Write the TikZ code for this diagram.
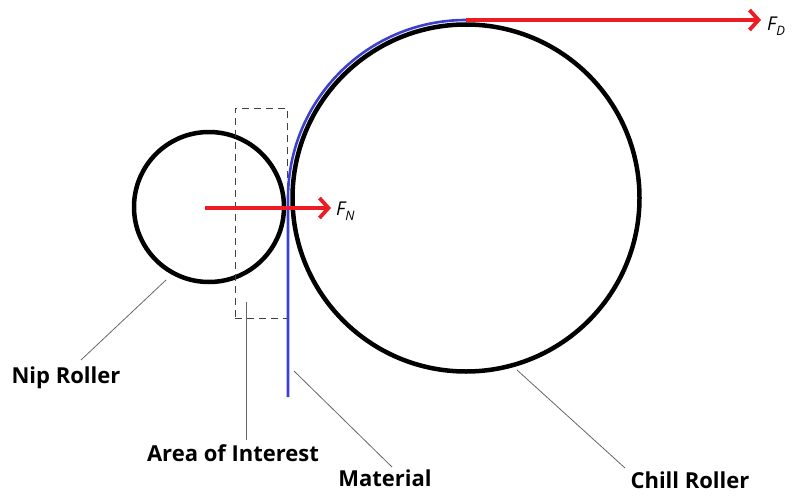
\documentclass[tikz,border=0pt]{standalone}
\usepackage{fontspec}
\setmainfont{Open Sans}
\usetikzlibrary{arrows.meta}
\definecolor{fred}{RGB}{237,28,36}
\definecolor{mblue}{RGB}{60,64,205}
\tikzset{
  roller/.style={draw=black,line width=4.5pt},
  material/.style={draw=mblue,line width=2.6pt},
  force/.style={draw=fred,line width=3.5pt,-{Straight Barb[length=9pt,width=20pt,line width=3.8pt]}},
  leader/.style={draw=black!60,line width=0.8pt},
  lbl/.style={font=\fontsize{22}{24}\selectfont\bfseries,inner sep=0pt},
  flbl/.style={font=\fontsize{19}{21}\selectfont\itshape,inner sep=0pt,anchor=west}
}
\begin{document}
\begin{tikzpicture}[x=1pt,y=-1pt]
\useasboundingbox (0,0) rectangle (792,495);
% rollers
\node[roller,circle,minimum size=150pt,inner sep=0pt] (nip) at (209,207) {};
\node[roller,circle,minimum size=347pt,inner sep=0pt] (chill) at (466,198) {};
% area of interest box
\node[draw=black!75,dashed,line width=0.9pt,dash pattern=on 7pt off 5pt,minimum width=52pt,minimum height=210pt,inner sep=0pt] (aoi) at (261,213) {};
% material
\coordinate (mbot) at (288,397);
\coordinate (mtop) at (466,20);
\draw[material] (mbot) -- (288,198) arc[start angle=180,end angle=270,radius=178];
% forces
\node[flbl] (fd) at (767,26) {F\raisebox{-0.45ex}{\fontsize{13}{13}\selectfont D}};
\draw[force] (mtop) -- ([xshift=-6pt]mtop -| fd.west);
\coordinate (fnstart) at (205,208);
\node[flbl] (fn) at (336,211) {F\raisebox{-0.45ex}{\fontsize{13}{13}\selectfont N}};
\draw[force] (fnstart) -- ([xshift=-5pt]fnstart -| fn.west);
% labels
\node[lbl] (lnip) at (66,378) {Nip Roller};
\node[lbl] (laoi) at (233,453) {Area of Interest};
\node[lbl] (lmat) at (385,478) {Material};
\node[lbl] (lchill) at (690,480) {Chill Roller};
% leaders
\coordinate (anip) at (166,280);
\coordinate (aaoi) at (246,302);
\coordinate (amat) at (294,371);
\coordinate (achill) at (517,370);
\draw[leader] (anip) -- (81,360);
\draw[leader] (aaoi) -- (246,440);
\draw[leader] (amat) -- (392,467);
\draw[leader] (achill) -- (625,468);
\end{tikzpicture}
\end{document}
